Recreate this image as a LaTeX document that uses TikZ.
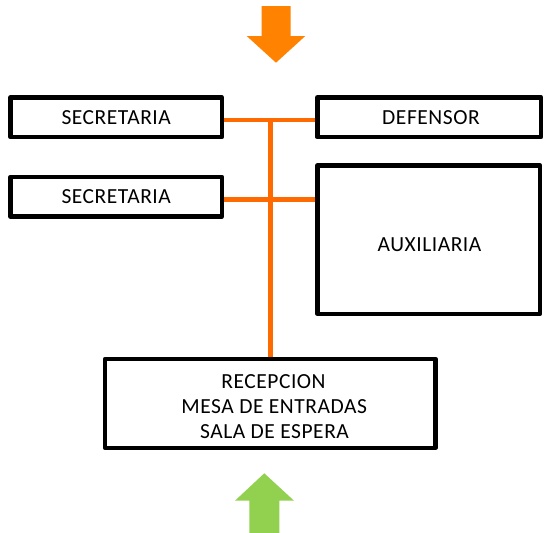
\documentclass[tikz,border=0pt]{standalone}
\usepackage{fontspec}
\setmainfont[LetterSpace=2.5]{Carlito}
\definecolor{lineorange}{RGB}{255,106,0}
\definecolor{arroworange}{RGB}{255,130,0}
\definecolor{arrowgreen}{RGB}{146,208,80}
\begin{document}
\begin{tikzpicture}[x=1pt,y=1pt,
  roombox/.style={draw=black, line width=4.5pt, line join=round, fill=white, inner sep=0pt, rectangle},
  roomtext/.style={font=\fontsize{21.5}{25}\selectfont, inner sep=0pt, anchor=base},
  link/.style={draw=lineorange, line width=4.5pt}]
\useasboundingbox (0,0) rectangle (544,-533);
\fill[white] (0,0) rectangle (544,-533);

% boxes
\node[roombox, minimum width=211.3pt, minimum height=39.7pt] (sec1) at (116.2,-117.2) {};
\node[roombox, minimum width=211.3pt, minimum height=39.7pt] (sec2) at (116.2,-196.7) {};
\node[roombox, minimum width=223.7pt, minimum height=39.7pt] (def) at (429.2,-117.2) {};
\node[roombox, minimum width=222.7pt, minimum height=148.3pt] (aux) at (428.7,-239.7) {};
\node[roombox, minimum width=330.5pt, minimum height=88.8pt] (rec) at (270.2,-403.4) {};

% texts
\node[roomtext] (t1) at (116.2,-124.3) {SECRETARIA};
\node[roomtext] (t2) at (116.2,-203.8) {SECRETARIA};
\node[roomtext] (t3) at (431,-124.3) {DEFENSOR};
\node[roomtext] (t4) at (429.5,-251.7) {AUXILIARIA};
\node[roomtext] (r1) at (273.5,-388) {RECEPCION};
\node[roomtext] (r2) at (274.2,-413) {MESA DE ENTRADAS};
\node[roomtext] (r3) at (274.5,-438) {SALA DE ESPERA};

% connectors
\coordinate (j) at (270.3,-120);
\path[link] ([yshift=-2.8pt]sec1.east) -- ([yshift=-2.8pt]def.west);
\path[link] ([yshift=-2.8pt]sec2.east) -- ([yshift=-2.8pt]sec2.east -| aux.west);
\path[link] (j) -- (j |- rec.north);

% top arrow (orange, pointing down)
\fill[arroworange] (261.7,-6) -- (290.7,-6) -- (290.7,-36) -- (305.3,-36)
  -- (276,-62.7) -- (246.7,-36) -- (261.7,-36) -- cycle;
% bottom arrow (green, pointing up)
\fill[arrowgreen] (249.3,-533) -- (279.3,-533) -- (279.3,-500.7) -- (294,-500.7)
  -- (264.3,-473.3) -- (235,-500.7) -- (249.3,-500.7) -- cycle;
\end{tikzpicture}
\end{document}
